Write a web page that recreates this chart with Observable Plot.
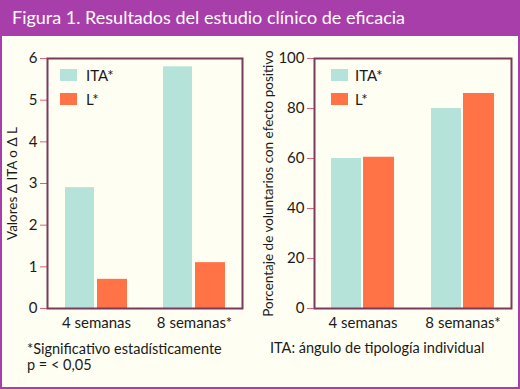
<!DOCTYPE html>
<html><head><meta charset="utf-8">
<script src="https://cdn.jsdelivr.net/npm/d3@7"></script>
<script src="https://cdn.jsdelivr.net/npm/@observablehq/plot@0.6"></script>
<style>
html,body{margin:0;padding:0;background:#fff;}
#fig{position:relative;width:520px;height:389px;background:#fffef3;font-family:Lato,sans-serif;overflow:hidden;color:#1a1a1a;}
#hdr{position:absolute;left:0;top:0;width:520px;height:36px;background:#a83ea9;color:#fff;font-size:18px;line-height:35px;padding-left:12px;box-sizing:border-box;white-space:nowrap;}
#border{position:absolute;left:0;top:36px;width:520px;height:353px;border:2px solid #a83ea9;border-top:none;box-sizing:border-box;pointer-events:none;}
.chart{position:absolute;top:36px;}
.sw{position:absolute;width:17px;height:12px;}
.lg{position:absolute;font-size:15px;line-height:16px;}
.note{position:absolute;font-size:14.5px;line-height:16px;white-space:nowrap;}
.chart svg g[aria-label="y-axis tick"]{stroke:#e0607a;}
.chart svg g[aria-label="y-axis"] .tick line{stroke:#e0607a;}
.chart svg g[aria-label="y-axis label"] text{font-size:13.5px;}
</style>
</head><body>
<div id="fig">
  <div id="hdr">Figura 1. Resultados del estudio clínico de eficacia</div>
  <div id="left" class="chart" style="left:0px"></div>
  <div id="right" class="chart" style="left:258px"></div>
  <div id="border"></div>
</div>
<script>
const weeks = ["4 semanas", "8 semanas*"];
const series = ["ITA*", "L*"];
const colors = ["#b5e3d9", "#ff7346"];
const deltaITA = [2.9, 5.8];
const deltaL = [0.7, 1.1];
const pctITA = [60, 80];
const pctL = [60.5, 86];
const leftTicks = [0, 1, 2, 3, 4, 5, 6];
const rightTicks = [0, 20, 40, 60, 80, 100];
const leftTitle = "Valores Δ ITA o Δ L";
const rightTitle = "Porcentaje de voluntarios con efecto positivo";
const noteLeft = ["*Significativo estadísticamente", "p = < 0,05"];
const noteRight = "ITA: ángulo de tipología individual";

function rows(a, b) {
  return weeks.flatMap((w, i) => [
    {week: w, serie: series[0], value: a[i]},
    {week: w, serie: series[1], value: b[i]}
  ]);
}

function chart(data, opts) {
  return Plot.plot({
    width: opts.width, height: 300,
    marginLeft: opts.ml, marginRight: opts.mr, marginTop: 22, marginBottom: 28,
    style: {background: "transparent", fontFamily: "Lato, sans-serif", fontSize: "15px", color: "#1a1a1a"},
    x: {domain: weeks, paddingInner: 0.37, paddingOuter: 0.17, label: null, tickSize: 0, tickPadding: 9},
    y: {domain: opts.domain, ticks: opts.ticks, tickFormat: d3.format("d"), tickSize: 7, tickPadding: 3, label: opts.title, labelArrow: "none", labelAnchor: "center", labelOffset: opts.lo},
    color: {domain: series, range: colors},
    marks: [
      Plot.barY(data.filter(d => d.serie === series[0]), {x: "week", y: "value", fill: "serie", insetRight: 33}),
      Plot.barY(data.filter(d => d.serie === series[1]), {x: "week", y: "value", fill: "serie", insetLeft: 32}),
      Plot.frame({stroke: "#7b3a5c", strokeWidth: 2})
    ]
  });
}

document.getElementById("left").append(chart(rows(deltaITA, deltaL), {width: 258, ml: 47, mr: 16, domain: [0, 6], ticks: leftTicks, title: leftTitle, lo: 40}));
document.getElementById("right").append(chart(rows(pctITA, pctL), {width: 262, ml: 56, mr: 9, domain: [0, 100], ticks: rightTicks, title: rightTitle, lo: 51}));

const fig = document.getElementById("fig");
function add(cls, style, text) {
  const d = document.createElement("div");
  d.className = cls;
  Object.assign(d.style, style);
  if (text != null) d.textContent = text;
  fig.append(d);
}
[[60, 86], [331, 355]].forEach(([sx, tx]) => {
  series.forEach((s, i) => {
    add("sw", {left: sx + "px", top: (69 + 24 * i) + "px", background: colors[i]});
    add("lg", {left: tx + "px", top: (67 + 24 * i) + "px"}, s);
  });
});
noteLeft.forEach((t, i) => add("note", {left: "27px", top: (341 + 16 * i) + "px"}, t));
add("note", {left: "270px", top: "340px"}, noteRight);
</script>
</body></html>
